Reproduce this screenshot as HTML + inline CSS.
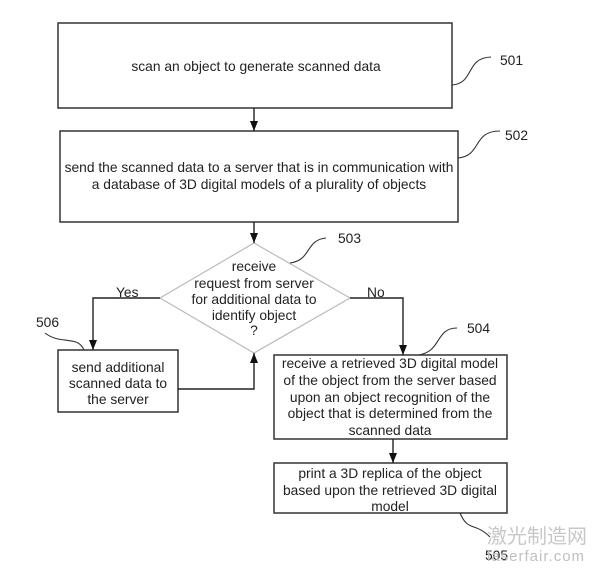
<!DOCTYPE html>
<html><head><meta charset="utf-8"><style>
html,body{margin:0;padding:0;background:#fff;}
svg text{font-family:"Liberation Sans",Arial,sans-serif;font-size:13.8px;fill:#222;}
</style></head><body>
<svg width="600" height="577" viewBox="0 0 600 577" xmlns="http://www.w3.org/2000/svg">
<defs><marker id="a" markerWidth="10" markerHeight="8" refX="10" refY="4" orient="auto" markerUnits="userSpaceOnUse"><path d="M0,0 L10,4 L0,8 z" fill="#111"/></marker></defs>
<g fill="none" stroke="#333" stroke-width="1.5">
<rect x="58" y="23" width="394" height="85"/>
<rect x="60" y="131" width="398" height="91"/>
<polygon points="254,243 350,298 254,353 160,298" stroke="#bbb" stroke-width="1.2"/>
<rect x="58" y="350" width="120" height="62"/>
<rect x="274" y="355" width="233" height="84"/>
<rect x="274" y="463" width="233" height="50"/>
</g>
<g fill="none" stroke="#222" stroke-width="1.4">
<line x1="254" y1="108" x2="254" y2="131" marker-end="url(#a)"/>
<line x1="254" y1="222" x2="254" y2="243" marker-end="url(#a)"/>
<polyline points="160,298 93,298 93,350" marker-end="url(#a)"/>
<polyline points="350,298 403,298 403,355" marker-end="url(#a)"/>
<polyline points="178,389 254,389 254,353" marker-end="url(#a)"/>
<line x1="393" y1="439" x2="393" y2="463" marker-end="url(#a)"/>
</g>
<g fill="none" stroke="#333" stroke-width="1.1">
<path d="M452,85 C475,83 465,58 491,57"/>
<path d="M458,158 C482,156 472,131 500,131"/>
<path d="M290,263 C312,260 305,240 326,238"/>
<path d="M418,355 C442,352 435,328 457,328"/>
<path d="M84,350 C78,335 60,345 45,333"/>
<path d="M460,513 C468,532 475,522 490,537"/>
</g>
<g text-anchor="middle">
<text x="256" y="71">scan an object to generate scanned data</text>
<text x="259" y="172">send the scanned data to a server that is in communication with</text>
<text x="259" y="189">a database of 3D digital models of a plurality of objects</text>
<text x="254" y="271">receive</text>
<text x="254" y="288">request from server</text>
<text x="254" y="304">for additional data to</text>
<text x="254" y="320">identify object</text>
<text x="254" y="335">?</text>
<text x="118" y="372">send additional</text>
<text x="118" y="388">scanned data to</text>
<text x="118" y="404">the server</text>
<text x="390" y="368">receive a retrieved 3D digital model</text>
<text x="390" y="385">of the object from the server based</text>
<text x="390" y="402">upon an object recognition of the</text>
<text x="390" y="418">object that is determined from the</text>
<text x="390" y="435">scanned data</text>
<text x="390" y="478">print a 3D replica of the object</text>
<text x="390" y="495">based upon the retrieved 3D digital</text>
<text x="390" y="511">model</text>
</g>
<text x="116" y="297">Yes</text>
<text x="367" y="297">No</text>
<text x="500" y="65">501</text>
<text x="505" y="140">502</text>
<text x="338" y="243">503</text>
<text x="467" y="333">504</text>
<text x="36" y="327">506</text>
<text x="485" y="560">505</text>
<text x="487" y="543" style="font-size:20px;fill:#c8c8c8;font-family:'Noto Sans CJK SC',sans-serif">激光制造网</text>
<text x="487" y="561" style="font-size:15px;fill:#c0c0c0;letter-spacing:1px">laserfair.com</text>
</svg>
</body></html>
